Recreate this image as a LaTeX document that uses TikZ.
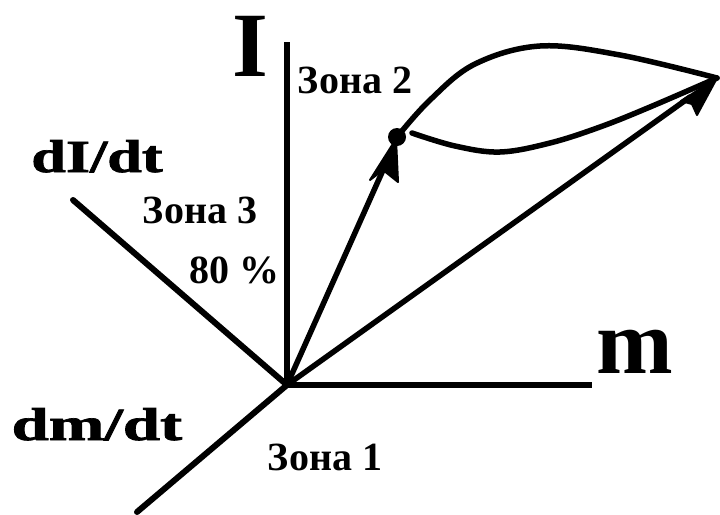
\documentclass[tikz,border=0pt]{standalone}
\usepackage{fontspec}
\setmainfont{Liberation Serif}
\newfontfamily\heavyserif[FakeBold=1.5]{Liberation Serif Bold}
\begin{document}
\begin{tikzpicture}[x=1pt,y=-1pt,
  ax/.style={line width=6pt},
  crv/.style={line width=5.5pt,line cap=round,line join=round},
  head/.style={fill=black,draw=black,line width=2pt,line join=round},
  big/.style={inner sep=0pt,anchor=base,font=\fontsize{92}{92}\selectfont\bfseries},
  mid/.style={inner sep=0pt,anchor=base,font=\fontsize{46}{46}\selectfont\heavyserif},
  zona/.style={inner sep=0pt,anchor=base,font=\fontsize{40}{40}\selectfont\bfseries}]
\useasboundingbox (0,0) rectangle (720,514);
\coordinate (O) at (287,385);
\coordinate (Itop) at (287,42);
\coordinate (mend) at (592,385);
\coordinate (dIend) at (73,200);
\coordinate (dmend) at (137,512);
\coordinate (K) at (397,137);
\coordinate (T) at (717,78);
% axes
\draw[ax] (Itop) -- (O) -- (mend);
\draw[ax,line cap=round] (dIend) -- (O) -- (dmend);
% arrows
\draw[crv] (O) -- (392,150);
\draw[crv] (O) -- (690,97);
\filldraw[head] (396,139) -- (370,180) -- (383,170) -- (398,182) -- cycle;
\filldraw[head] (T) -- (681,101) -- (692,104) -- (697,115) -- cycle;
% knot
\fill (K) circle (9pt);
% curves
\draw[crv] plot[smooth,tension=0.6] coordinates {(K) (430,100) (475,64) (540,46) (620,55) (T)};
\draw[crv] plot[smooth,tension=0.6] coordinates {(412,133) (455,146) (500,152) (550,143) (600,127) (650,107) (T)};
% labels
\node[big] (lI) at (250,76) {I};
\node[big] (lm) at (635,373) {m};
\node[mid,xscale=1.35] (ldI) at (97,172) {dI/dt};
\node[mid,xscale=1.45] (ldm) at (97,440) {dm/dt};
\node[zona] (z2) at (355,93) {Зона 2};
\node[zona] (z3) at (200,223) {Зона 3};
\node[zona] (p80) at (234,283) {80 \%};
\node[zona] (z1) at (325,470) {Зона 1};
\end{tikzpicture}
\end{document}
